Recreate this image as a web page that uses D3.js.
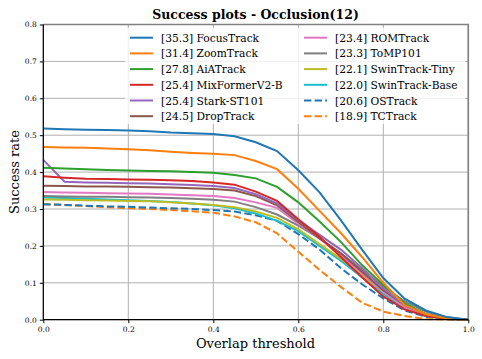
<!DOCTYPE html>
<html>
<head>
<meta charset="utf-8">
<script src="https://cdn.jsdelivr.net/npm/d3@7"></script>
<style>
  body { margin: 0; background: #fff; }
  text { font-family: "DejaVu Serif", serif; fill: #000; }
</style>
</head>
<body>
<svg id="chart" width="482" height="359"></svg>
<script>
// overlap thresholds sampled every 0.05
const thresholds = [0, 0.05, 0.1, 0.15, 0.2, 0.25, 0.3, 0.35, 0.4, 0.45, 0.5,
  0.55, 0.6, 0.65, 0.7, 0.75, 0.8, 0.85, 0.9, 0.95, 1.0];

const trackers = ["FocusTrack", "ZoomTrack", "AiATrack", "MixFormerV2-B", "Stark-ST101",
  "DropTrack", "ROMTrack", "ToMP101", "SwinTrack-Tiny", "SwinTrack-Base", "OSTrack", "TCTrack"];
const aucs = ["35.3", "31.4", "27.8", "25.4", "25.4", "24.5", "23.4", "23.3", "22.1", "22.0", "20.6", "18.9"];
const colors = ["#1f77b4", "#ff7f0e", "#2ca02c", "#d62728", "#9467bd", "#8c564b",
  "#e377c2", "#7f7f7f", "#bcbd22", "#17becf", "#1f77b4", "#ff7f0e"];
const dashed = [false, false, false, false, false, false, false, false, false, false, true, true];

const focusTrack = [0.518, 0.516, 0.515, 0.514, 0.513, 0.511, 0.507, 0.505, 0.503, 0.497, 0.481,
  0.457, 0.405, 0.345, 0.27, 0.19, 0.113, 0.057, 0.025, 0.007, 0];
const zoomTrack = [0.468, 0.467, 0.466, 0.464, 0.462, 0.459, 0.455, 0.452, 0.45, 0.446, 0.43,
  0.408, 0.355, 0.295, 0.235, 0.17, 0.1, 0.04, 0.015, 0.004, 0];
const aiaTrack = [0.412, 0.41, 0.408, 0.406, 0.404, 0.403, 0.402, 0.4, 0.398, 0.392, 0.383,
  0.36, 0.318, 0.266, 0.211, 0.148, 0.094, 0.045, 0.015, 0.003, 0];
const mixFormer = [0.389, 0.385, 0.382, 0.381, 0.38, 0.379, 0.378, 0.376, 0.372, 0.366, 0.347,
  0.322, 0.272, 0.225, 0.17, 0.115, 0.063, 0.028, 0.01, 0.002, 0];
const stark = [0.433, 0.374, 0.372, 0.371, 0.37, 0.369, 0.367, 0.365, 0.362, 0.357, 0.34,
  0.315, 0.27, 0.23, 0.19, 0.14, 0.085, 0.04, 0.013, 0.003, 0];
const dropTrack = [0.363, 0.362, 0.361, 0.361, 0.36, 0.359, 0.358, 0.356, 0.354, 0.35, 0.335,
  0.31, 0.265, 0.22, 0.18, 0.13, 0.08, 0.04, 0.015, 0.003, 0];
const romTrack = [0.346, 0.345, 0.344, 0.343, 0.342, 0.341, 0.339, 0.337, 0.335, 0.33, 0.318,
  0.303, 0.26, 0.22, 0.175, 0.125, 0.075, 0.035, 0.012, 0.003, 0];
const tomp = [0.335, 0.334, 0.333, 0.333, 0.332, 0.331, 0.33, 0.328, 0.325, 0.32, 0.305,
  0.285, 0.255, 0.22, 0.18, 0.135, 0.09, 0.05, 0.022, 0.006, 0];
const swinTiny = [0.326, 0.325, 0.324, 0.323, 0.322, 0.321, 0.318, 0.315, 0.311, 0.305, 0.293,
  0.276, 0.245, 0.205, 0.165, 0.12, 0.075, 0.035, 0.012, 0.003, 0];
const swinBase = [0.331, 0.33, 0.328, 0.326, 0.324, 0.322, 0.319, 0.315, 0.31, 0.302, 0.288,
  0.268, 0.24, 0.2, 0.16, 0.115, 0.07, 0.03, 0.01, 0.002, 0];
const osTrack = [0.313, 0.311, 0.309, 0.307, 0.306, 0.304, 0.302, 0.3, 0.297, 0.293, 0.283,
  0.268, 0.232, 0.19, 0.14, 0.096, 0.058, 0.025, 0.008, 0.002, 0];
const tcTrack = [0.313, 0.311, 0.308, 0.305, 0.302, 0.3, 0.297, 0.294, 0.29, 0.28, 0.264,
  0.234, 0.184, 0.135, 0.089, 0.046, 0.022, 0.01, 0.002, 0, 0];

const allValues = [focusTrack, zoomTrack, aiaTrack, mixFormer, stark, dropTrack,
  romTrack, tomp, swinTiny, swinBase, osTrack, tcTrack];

const xTicks = [0, 0.2, 0.4, 0.6, 0.8, 1.0];
const yTicks = [0, 0.1, 0.2, 0.3, 0.4, 0.5, 0.6, 0.7, 0.8];

const svg = d3.select("#chart");
const x = d3.scaleLinear().domain([0, 1]).range([43.3, 468.3]);
const y = d3.scaleLinear().domain([0, 0.8]).range([319.7, 24.5]);

// grid
const grid = svg.append("g").attr("stroke", "#b0b0b0").attr("stroke-width", 1);
grid.selectAll(".gx").data(xTicks).enter().append("line")
  .attr("x1", d => x(d)).attr("x2", d => x(d))
  .attr("y1", y(0)).attr("y2", y(0.8));
grid.selectAll(".gy").data(yTicks).enter().append("line")
  .attr("x1", x(0)).attr("x2", x(1))
  .attr("y1", d => y(d)).attr("y2", d => y(d));
// top and right frame look like thicker grid lines
svg.append("path")
  .attr("d", `M${x(0)},${y(0.8)}H${x(1)}V${y(0)}`)
  .attr("fill", "none").attr("stroke", "#808080").attr("stroke-width", 1.6);

// curves, first entries on top
const line = d3.line().x((d, i) => x(thresholds[i])).y(d => y(d));
const order = d3.range(trackers.length).reverse();
svg.append("g").selectAll("path").data(order).enter().append("path")
  .attr("d", i => line(allValues[i]))
  .attr("fill", "none")
  .attr("stroke", i => colors[i])
  .attr("stroke-width", 2)
  .attr("stroke-dasharray", i => dashed[i] ? "7.4,3.2" : null);

// axes
const xAxis = svg.append("g").attr("transform", `translate(0,${y(0)})`)
  .call(d3.axisBottom(x).tickValues(xTicks).tickFormat(d3.format(".1f")).tickSize(3.5).tickPadding(3));
const yAxis = svg.append("g").attr("transform", `translate(${x(0)},0)`)
  .call(d3.axisLeft(y).tickValues(yTicks).tickFormat(d3.format(".1f")).tickSize(3.5).tickPadding(3));
[xAxis, yAxis].forEach(a => {
  a.select(".domain").attr("stroke", "#000").attr("stroke-width", 1.2);
  a.selectAll(".tick line").attr("stroke", "#000");
  a.selectAll("text").style("font-family", "DejaVu Serif").style("font-size", "7.5px");
});
// drop the axis end caps beyond the frame
xAxis.select(".domain").attr("d", `M${x(0)},0H${x(1)}`);
yAxis.select(".domain").attr("d", `M0,${y(0)}V${y(0.8)}`);

// titles
svg.append("text").attr("x", 255.5).attr("y", 18.5).attr("text-anchor", "middle")
  .style("font-size", "12.5px").style("font-weight", "bold")
  .text("Success plots - Occlusion(12)");
svg.append("text").attr("x", 255.5).attr("y", 348).attr("text-anchor", "middle")
  .style("font-size", "13px").text("Overlap threshold");
svg.append("text").attr("transform", "translate(18.5,172) rotate(-90)").attr("text-anchor", "middle")
  .style("font-size", "13px").text("Success rate");

// legend
const legend = svg.append("g");
legend.append("rect").attr("x", 125).attr("y", 28).attr("width", 340).attr("height", 96)
  .attr("rx", 3).attr("fill", "#fff").attr("fill-opacity", 0.8);
const rowsPerCol = 6;
const items = legend.selectAll(".item").data(d3.range(trackers.length)).enter().append("g")
  .attr("transform", i => `translate(${i < rowsPerCol ? 130 : 304},${37.7 + (i % rowsPerCol) * 15.7})`);
items.append("line").attr("x1", 0).attr("x2", 23).attr("y1", 0).attr("y2", 0)
  .attr("stroke", i => colors[i]).attr("stroke-width", 2)
  .attr("stroke-dasharray", i => dashed[i] ? "7.4,3.2" : null);
const labels = items.append("text").attr("x", 31).attr("y", 4)
  .style("font-family", "DejaVu Serif")
  .style("font-size", "10px")
  .text(i => `[${aucs[i]}] ${trackers[i]}`);
// size the legend font so the longest entry spans what the reference shows
const longest = labels.filter(i => i === 9).node().getComputedTextLength();
labels.style("font-size", (10 * 122.7 / longest).toFixed(2) + "px");
</script>
</body>
</html>
